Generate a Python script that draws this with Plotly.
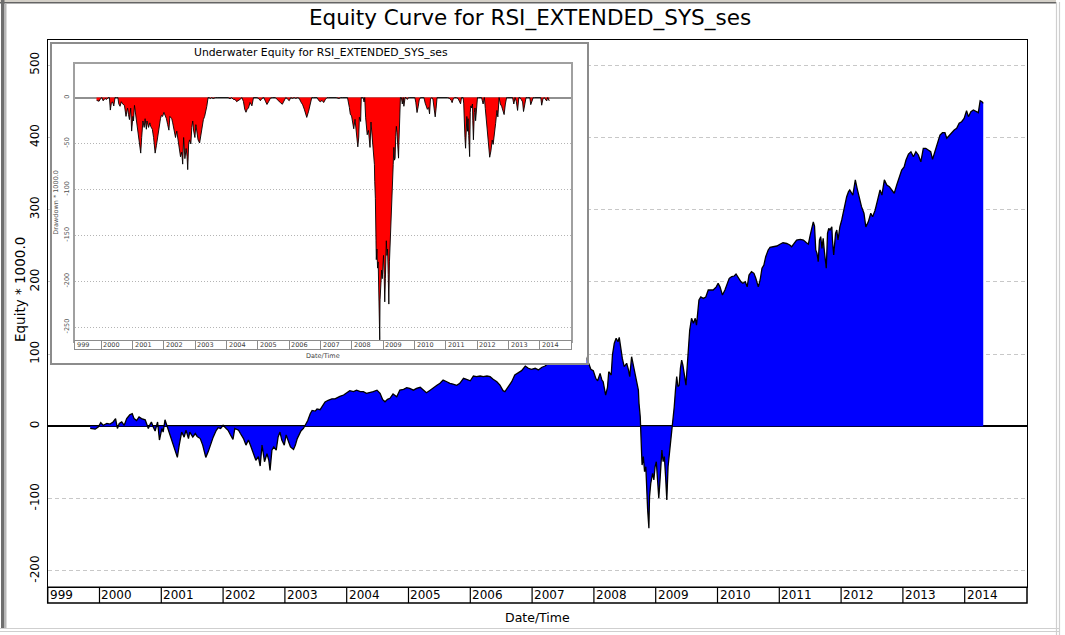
import numpy as np
import plotly.graph_objects as go

W, H = 1065, 635

# ---------------- data ----------------
YEAR_TIME = [
    1999.85, 1999.93, 1999.98, 2000.02, 2000.06, 2000.12, 2000.17, 2000.22, 2000.26, 2000.29,
    2000.32, 2000.36, 2000.40, 2000.44, 2000.49, 2000.53, 2000.56, 2000.60, 2000.64, 2000.68,
    2000.74, 2000.76, 2000.79, 2000.82, 2000.84, 2000.87, 2000.90, 2000.94, 2000.97, 2001.01,
    2001.03, 2001.06, 2001.10, 2001.13, 2001.17, 2001.21, 2001.26, 2001.29, 2001.33, 2001.37,
    2001.40, 2001.44, 2001.46, 2001.51, 2001.55, 2001.58, 2001.63, 2001.67, 2001.72, 2001.76,
    2001.80, 2001.84, 2001.89, 2001.92, 2001.96, 2002.00, 2002.05, 2002.08, 2002.12, 2002.16,
    2002.19, 2002.25, 2002.28, 2002.33, 2002.37, 2002.41, 2002.45, 2002.49, 2002.53, 2002.57,
    2002.60, 2002.63, 2002.67, 2002.71, 2002.74, 2002.76, 2002.79, 2002.82, 2002.86, 2002.89,
    2002.92, 2002.95, 2002.99, 2003.02, 2003.05, 2003.09, 2003.14, 2003.17, 2003.20, 2003.23,
    2003.26, 2003.30, 2003.33, 2003.37, 2003.41, 2003.44, 2003.49, 2003.52, 2003.57, 2003.61,
    2003.65, 2003.70, 2003.76, 2003.81, 2003.86, 2003.89,
    2003.95, 2004.00, 2004.05, 2004.11, 2004.16, 2004.22, 2004.27, 2004.32, 2004.38, 2004.43,
    2004.49, 2004.54, 2004.58, 2004.62, 2004.66, 2004.70, 2004.75, 2004.81, 2004.86, 2004.92,
    2004.97, 2005.02, 2005.08, 2005.13, 2005.19, 2005.24, 2005.29, 2005.35, 2005.40, 2005.46,
    2005.51, 2005.56, 2005.62, 2005.67, 2005.72, 2005.78, 2005.83, 2005.89, 2005.94, 2006.00,
    2006.05, 2006.10, 2006.16, 2006.21, 2006.27, 2006.32, 2006.37, 2006.43, 2006.48, 2006.53,
    2006.56, 2006.62, 2006.67, 2006.72, 2006.78, 2006.83, 2006.89, 2006.94, 2006.99, 2007.05,
    2007.10, 2007.16, 2007.21, 2007.26, 2007.32, 2007.40, 2007.50, 2007.59, 2007.64, 2007.69,
    2007.78, 2007.86,
    2007.92, 2007.95, 2007.99, 2008.03, 2008.06, 2008.10, 2008.13, 2008.15, 2008.19, 2008.22,
    2008.24, 2008.28, 2008.30, 2008.33, 2008.36, 2008.39, 2008.41, 2008.44, 2008.46, 2008.49,
    2008.53, 2008.56, 2008.58, 2008.61, 2008.64, 2008.67, 2008.69, 2008.72, 2008.73, 2008.75,
    2008.77, 2008.78, 2008.80, 2008.82, 2008.84, 2008.85, 2008.87, 2008.89, 2008.90, 2008.92,
    2008.95, 2008.97, 2008.99, 2009.01, 2009.03, 2009.05, 2009.07, 2009.10, 2009.12, 2009.14,
    2009.16, 2009.18, 2009.20, 2009.23, 2009.25, 2009.27, 2009.28, 2009.30, 2009.32, 2009.34,
    2009.36, 2009.38, 2009.40, 2009.42, 2009.44, 2009.46, 2009.49, 2009.50, 2009.53,
    2009.55, 2009.58, 2009.61, 2009.64, 2009.66, 2009.70, 2009.73, 2009.77, 2009.81, 2009.85,
    2009.89, 2009.93, 2009.98, 2010.01, 2010.04, 2010.08, 2010.12, 2010.15, 2010.19, 2010.23,
    2010.27, 2010.30, 2010.34, 2010.38, 2010.41, 2010.45, 2010.48, 2010.51, 2010.55, 2010.59,
    2010.62, 2010.66, 2010.69, 2010.72, 2010.75, 2010.78, 2010.82, 2010.85, 2010.90, 2010.96,
    2011.01, 2011.06, 2011.12, 2011.17, 2011.20, 2011.24, 2011.28, 2011.34, 2011.39, 2011.44,
    2011.47, 2011.50, 2011.52, 2011.55, 2011.57, 2011.59, 2011.61, 2011.63, 2011.65, 2011.67,
    2011.69, 2011.71, 2011.73, 2011.76, 2011.78, 2011.80, 2011.82, 2011.85, 2011.86, 2011.88,
    2011.91, 2011.93, 2011.95, 2011.98, 2012.01, 2012.04, 2012.06, 2012.09, 2012.12,
    2012.14, 2012.19, 2012.23, 2012.26, 2012.29, 2012.33, 2012.37, 2012.40, 2012.44, 2012.48,
    2012.51, 2012.55, 2012.59, 2012.63, 2012.66, 2012.70, 2012.74, 2012.78, 2012.82, 2012.86,
    2012.90, 2012.94, 2012.98, 2013.02, 2013.05, 2013.09, 2013.13, 2013.17, 2013.21, 2013.25,
    2013.29, 2013.33, 2013.37, 2013.41, 2013.45, 2013.48, 2013.52, 2013.56, 2013.60, 2013.64,
    2013.68, 2013.71, 2013.75, 2013.79, 2013.83, 2013.87, 2013.91, 2013.95, 2013.99, 2014.03,
    2014.06, 2014.10, 2014.14, 2014.18, 2014.22, 2014.25, 2014.28, 2014.30,
]

EQUITY = [
    -3, -4, -1, 5, 1.5, 4, 3, 6, 10.6, -3,
    4, 6, 1.4, 10.6, 16, 17.5, 10.6, 8, 13, 10.6,
    9, 4, -3, 3, 6, -1, -6.5, 6, -19, -3,
    -8, 9, -1, -8, -19, -28.6, -43, -26, -8, -15,
    -5.5, -17, -8, -15, -10, -14, -17, -26, -43, -35,
    -24, -15, -5.5, -2, -3, 1.4, -3, -5.5, -12, -18,
    -3, -5.5, -10, -17, -26, -19, -28, -38, -47, -42,
    -55, -26, -49, -38, -47, -61, -33, -28.6, -33, -15,
    -8, -19, -26, -12, -19, -28.6, -32, -26, -17, -12,
    -6.5, -3, 1.4, 8, 17.5, 22, 21, 24, 23, 29,
    33.7, 36, 38, 38, 40.6, 41.5,
    43.3, 46.5, 49.3, 48, 50, 48, 48, 45.6, 46.5, 48,
    50, 45.6, 37.3, 34, 37.3, 38.7, 44.7, 41, 50, 51.2,
    53.4, 52.5, 50, 52.5, 54, 50, 46.5, 50, 53.4, 56.7,
    59.5, 64, 61.7, 59.5, 58.5, 56.7, 59.5, 66.4, 65, 63,
    69.6, 68.7, 69.6, 68.7, 69.6, 68.7, 65, 61.7, 57, 49.3,
    48, 54.8, 61.7, 71, 74.2, 77, 83.4, 80.3, 78.9, 80.3,
    78, 81.7, 83.4, 87, 89, 90, 92, 91, 93, 95,
    96, 97,
    86.2, 78.9, 77, 66.4, 63, 73.3, 64, 61.7, 43.3, 54,
    75.6, 71, 98.7, 114.9, 121.8, 117, 123, 101, 94, 82.5,
    87.2, 78, 68.7, 96.3, 84.8, 73.3, 61.7, 50, 31.8, 13.3,
    -33, -53.6, -42, -62.8, -56, -88, -116, -141, -97.4, -79,
    -65, -74.3, -56, -49, -69.7, -99.6, -74.3, -33, -49, -42,
    -69.7, -102, -56, -33, -19, -2.8, 8.7, 27, 50, 68.7,
    54.8, 57, 80.3, 91.7, 84.8, 75.6, 57, 71, 101,
    133, 149.5, 142.5, 149.5, 140, 174.8, 179, 177, 179, 188.6,
    188.6, 188.6, 193, 198, 193, 181.7, 188.6, 195.5, 204.8, 207,
    208, 210.8, 204.8, 200, 198, 200, 193, 209.4, 214, 211.7,
    204.8, 193, 202.5, 218.7, 223, 234.7, 244, 247.7, 248.5, 249.5,
    252, 254, 253, 251, 248.5, 253, 257.8, 258.8, 257.8, 254,
    252, 264.7, 271.7, 283, 277, 244, 239.4, 227.8, 257.8, 262.4,
    246.3, 260, 241.6, 218.7, 267, 274, 271.7, 276, 257.8, 237,
    267, 271.7, 257.8, 276, 285.5, 299, 308.6, 317.7, 324.7,
    327, 320, 341, 329, 317.7, 304, 294.8, 276, 283, 294.8,
    290, 299, 313, 327, 320, 341, 334, 331.6, 327, 322.5,
    334, 345.4, 354.7, 359, 368.5, 376.8, 380, 373, 380, 375.5,
    366, 384.7, 384.7, 382.4, 380, 369.5, 380, 391.6, 403, 406.3,
    406.3, 398.6, 403, 406.3, 410, 412.4, 419.3, 421.5, 426.2, 436.8,
    428.5, 435.4, 437.7, 435.4, 434, 450.6, 449.2, 447,
]

YEAR_LABELS = list(range(2000, 2015))
MAIN_Y_TICKS = [-200, -100, 0, 100, 200, 300, 400, 500]
INSET_Y_TICKS = [-250, -200, -150, -100, -50, 0]

TITLE = "Equity Curve for RSI_EXTENDED_SYS_ses"
INSET_TITLE = "Underwater Equity for RSI_EXTENDED_SYS_ses"
Y_TITLE = "Equity * 1000.0"
INSET_Y_TITLE = "Drawdown * 1000.0"
X_TITLE = "Date/Time"

# underwater equity = equity minus its running peak (peak starts at 0)
eq = np.array(EQUITY, dtype=float)
peak = np.maximum.accumulate(np.concatenate([[0.0], eq]))[1:]
DRAWDOWN = eq - peak

FONT = "DejaVu Sans"


def fx(px):
    return px / W


def fy(py):
    return 1 - py / H


# main plot geometry (pixels)
ML, MR, MT, MB = 47.7, 1027.0, 40.0, 587.3
BAND_B = 603.0
XR = [1999.162, 2015.008]
YR = [-222.8, 534.6]

# inset geometry (pixels)
BOX = (51.5, 586.5, 43.5, 363.0)
IL, IR, IT, IB = 75.0, 571.4, 64.0, 340.7
IBAND_B = 349.0
IYR = [-264.9, 36.6]

fig = go.Figure()

fig.add_trace(go.Scatter(
    x=YEAR_TIME, y=EQUITY, mode="lines", fill="tozeroy", fillcolor="#0000FF",
    line=dict(color="black", width=1.3), xaxis="x", yaxis="y",
    hoverinfo="skip", showlegend=False))

fig.add_trace(go.Scatter(x=[None], y=[None], mode="lines", xaxis="x2", yaxis="y2",
                         hoverinfo="skip", showlegend=False))

fig.add_trace(go.Scatter(
    x=YEAR_TIME, y=DRAWDOWN, mode="lines", fill="tozeroy", fillcolor="#FF0000",
    line=dict(color="black", width=0.9), xaxis="x3", yaxis="y3",
    hoverinfo="skip", showlegend=False))

fig.add_trace(go.Scatter(x=[None], y=[None], mode="lines", xaxis="x4", yaxis="y4",
                         hoverinfo="skip", showlegend=False))

plain = dict(showgrid=False, zeroline=False, showticklabels=False, ticks="", fixedrange=True)

fig.update_layout(
    width=W, height=H, autosize=False,
    margin=dict(l=0, r=0, t=0, b=0, pad=0),
    paper_bgcolor="white", plot_bgcolor="white",
    showlegend=False, hovermode=False,
    font=dict(family=FONT, color="black"),
    xaxis=dict(domain=[fx(ML), fx(MR)], range=XR, anchor="y",
               showline=True, mirror=True, linecolor="black", linewidth=1, **plain),
    yaxis=dict(domain=[fy(MB), fy(MT)], range=YR, anchor="x",
               tickmode="array", tickvals=MAIN_Y_TICKS,
               ticktext=[str(v) for v in MAIN_Y_TICKS], tickangle=-90,
               tickfont=dict(family=FONT, size=12, color="black"),
               showticklabels=True, ticks="", ticklabelstandoff=3,
               showgrid=True, gridcolor="#c8c8c8", gridwidth=1, griddash="4px,3px",
               zeroline=True, zerolinecolor="black", zerolinewidth=1.5,
               showline=True, mirror=True, linecolor="black", linewidth=1, fixedrange=True),
    xaxis2=dict(domain=[fx(BOX[0]), fx(BOX[1])], range=[0, 1], anchor="y2",
                showline=True, mirror=True, linecolor="#8c8c8c", linewidth=2, **plain),
    yaxis2=dict(domain=[fy(BOX[3]), fy(BOX[2])], range=[0, 1], anchor="x2",
                showline=True, mirror=True, linecolor="#8c8c8c", linewidth=2, **plain),
    xaxis3=dict(domain=[fx(IL), fx(IR)], range=XR, anchor="y3",
                showline=True, mirror=True, linecolor="#a0a0a0", linewidth=2, **plain),
    yaxis3=dict(domain=[fy(IB), fy(IT)], range=IYR, anchor="x3",
                tickmode="array", tickvals=INSET_Y_TICKS,
                ticktext=[str(v) for v in INSET_Y_TICKS], tickangle=-90,
                tickfont=dict(family=FONT, size=6.5, color="#505050"),
                showticklabels=True, ticks="", ticklabelstandoff=1,
                showgrid=True, gridcolor="#b4b4b4", gridwidth=1, griddash="1px,2px",
                zeroline=True, zerolinecolor="#909090", zerolinewidth=1.5,
                showline=True, mirror=True, linecolor="#a0a0a0", linewidth=2,
                title=dict(text=INSET_Y_TITLE, font=dict(family=FONT, size=6.5, color="#505050"),
                           standoff=4),
                fixedrange=True),
    xaxis4=dict(domain=[fx(IL), fx(IR)], range=XR, anchor="y4",
                tickmode="array", tickvals=YEAR_LABELS, showgrid=True, gridcolor="#8c8c8c",
                gridwidth=1, zeroline=False, showticklabels=False, ticks="",
                showline=True, mirror=True, linecolor="#8c8c8c", linewidth=1, fixedrange=True),
    yaxis4=dict(domain=[fy(IBAND_B), fy(IB)], range=[0, 1], anchor="x4",
                showline=True, mirror=True, linecolor="#8c8c8c", linewidth=1, **plain),
)

shapes = []
# window decorations
shapes.append(dict(type="rect", xref="paper", yref="paper", x0=0, x1=fx(1056), y0=fy(2), y1=1,
                   fillcolor="#d4d0c8", line=dict(width=0), layer="below"))
shapes.append(dict(type="rect", xref="paper", yref="paper", x0=0, x1=fx(1056), y0=fy(3.5), y1=fy(2),
                   fillcolor="#646464", line=dict(width=0), layer="below"))
shapes.append(dict(type="rect", xref="paper", yref="paper", x0=fx(1), x1=fx(4.5), y0=fy(628), y1=1,
                   fillcolor="#6e6e6e", line=dict(width=0), layer="below"))
shapes.append(dict(type="rect", xref="paper", yref="paper", x0=fx(5), x1=fx(6.5), y0=fy(628), y1=fy(3.5),
                   fillcolor="#b8b8b8", line=dict(width=0), layer="below"))
for xx in (1056.5, 1059.5):
    shapes.append(dict(type="line", xref="paper", yref="paper", x0=fx(xx), x1=fx(xx), y0=0, y1=fy(2),
                       line=dict(color="#cfcfcf", width=1.2), layer="below"))
for yy in (628.5, 631.5):
    shapes.append(dict(type="line", xref="paper", yref="paper", x0=0, x1=fx(1059.5), y0=fy(yy), y1=fy(yy),
                       line=dict(color="#cfcfcf", width=1.2), layer="below"))

# main date band
shapes.append(dict(type="rect", xref="paper", yref="paper", x0=fx(ML), x1=fx(MR),
                   y0=fy(BAND_B), y1=fy(MB), line=dict(color="black", width=1.5),
                   fillcolor="white", layer="below"))
for yr in YEAR_LABELS:
    shapes.append(dict(type="line", xref="x", yref="paper", x0=yr, x1=yr,
                       y0=fy(BAND_B), y1=fy(MB), line=dict(color="black", width=1.2),
                       layer="below"))
fig.update_layout(shapes=shapes)

ann = []
ann.append(dict(text=TITLE, xref="paper", yref="paper", x=fx(530), y=fy(18),
                xanchor="center", yanchor="middle", showarrow=False,
                font=dict(family=FONT, size=21.5, color="black")))
ann.append(dict(text=Y_TITLE, xref="paper", yref="paper", x=fx(20), y=fy(290),
                xanchor="center", yanchor="middle", showarrow=False, textangle=-90,
                font=dict(family=FONT, size=13.5, color="black")))
ann.append(dict(text=X_TITLE, xref="paper", yref="paper", x=fx(537), y=fy(617),
                xanchor="center", yanchor="middle", showarrow=False,
                font=dict(family=FONT, size=12.5, color="black")))
for yr in YEAR_LABELS:
    ann.append(dict(text=str(yr), xref="x", yref="paper", x=yr, y=fy(595.3),
                    xanchor="left", yanchor="middle", xshift=0, showarrow=False,
                    font=dict(family=FONT, size=12, color="black")))
ann.append(dict(text="999", xref="paper", yref="paper", x=fx(ML), y=fy(595.3),
                xanchor="left", yanchor="middle", showarrow=False,
                font=dict(family=FONT, size=12, color="black")))
# inset texts
ann.append(dict(text=INSET_TITLE, xref="paper", yref="paper", x=fx(321), y=fy(52.5),
                xanchor="center", yanchor="middle", showarrow=False,
                font=dict(family=FONT, size=10.8, color="black")))
ann.append(dict(text=X_TITLE, xref="paper", yref="paper", x=fx(323), y=fy(355.5),
                xanchor="center", yanchor="middle", showarrow=False,
                font=dict(family=FONT, size=6.5, color="#404040")))
for yr in YEAR_LABELS:
    ann.append(dict(text=str(yr), xref="x3", yref="paper", x=yr, y=fy(345),
                    xanchor="left", yanchor="middle", showarrow=False,
                    font=dict(family=FONT, size=6.5, color="#404040")))
ann.append(dict(text="999", xref="paper", yref="paper", x=fx(IL), y=fy(345),
                xanchor="left", yanchor="middle", showarrow=False,
                font=dict(family=FONT, size=6.5, color="#404040")))
fig.update_layout(annotations=ann)

fig.write_html(
    "out.html", include_plotlyjs=True, config={"displayModeBar": False},
    post_script="document.body.style.margin='0';document.body.style.overflow='hidden';",
)
